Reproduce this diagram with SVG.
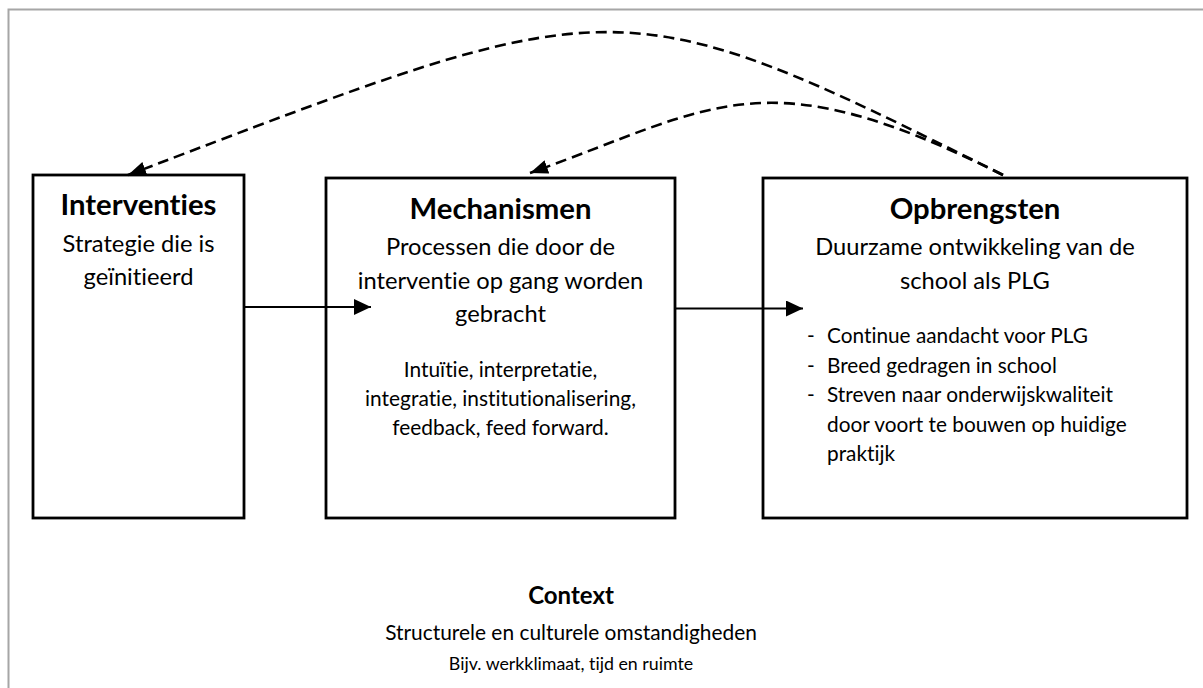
<svg xmlns="http://www.w3.org/2000/svg" width="1203" height="688" viewBox="0 0 1203 688">
  <style>
    text { font-family: Lato, "Liberation Sans", sans-serif; fill: #000; font-variant-ligatures: none; font-feature-settings: "liga" 0, "clig" 0; }
    .h { font-weight: bold; font-size: 29.3px; text-anchor: middle; }
    .b { font-size: 23.7px; text-anchor: middle; }
    .s { font-size: 20.9px; text-anchor: middle; }
    .l { font-size: 20.8px; }
    .box { fill: #fff; stroke: #000; stroke-width: 2.8; }
    .solid { fill: none; stroke: #000; stroke-width: 2.2; marker-end: url(#headSolid); }
    .dash { fill: none; stroke: #000; stroke-width: 2.6; stroke-dasharray: 11 6; marker-end: url(#headDash); }
  </style>
  <defs>
    <marker id="headSolid" viewBox="0 0 17 16" refX="17" refY="8" markerWidth="17" markerHeight="16" markerUnits="userSpaceOnUse" orient="auto">
      <path d="M0,0 L17,8 L0,16 z" fill="#000"/>
    </marker>
    <marker id="headDash" viewBox="0 0 18 14" refX="18" refY="7" markerWidth="18" markerHeight="14" markerUnits="userSpaceOnUse" orient="auto">
      <path d="M0,0 L18,7 L0,14 z" fill="#000"/>
    </marker>
  </defs>

  <rect width="1203" height="688" fill="#fff"/>
  <!-- frame -->
  <path d="M8.5,688 V9.5 H1203" fill="none" stroke="#a6a6a6" stroke-width="2"/>

  <g id="interventies">
    <rect class="box" x="33" y="175" width="211" height="343"/>
    <text class="h" x="138.5" y="215">Interventies</text>
    <text class="b" x="138.5" y="252">Strategie die is</text>
    <text class="b" x="138.5" y="285">geïnitieerd</text>
  </g>

  <g id="mechanismen">
    <rect class="box" x="326" y="178" width="349" height="340"/>
    <text class="h" x="500.5" y="219">Mechanismen</text>
    <text class="b" x="500.5" y="255">Processen die door de</text>
    <text class="b" x="500.5" y="288.5">interventie op gang worden</text>
    <text class="b" x="500.5" y="322">gebracht</text>
    <text class="s" x="500.5" y="377">Intuïtie, interpretatie,</text>
    <text class="s" x="500.5" y="406">integratie, institutionalisering,</text>
    <text class="s" x="500.5" y="435">feedback, feed forward.</text>
  </g>

  <g id="opbrengsten">
    <rect class="box" x="763" y="178" width="424" height="340"/>
    <text class="h" x="975" y="219">Opbrengsten</text>
    <text class="b" x="975" y="255">Duurzame ontwikkeling van de</text>
    <text class="b" x="975" y="288.5">school als PLG</text>
    <text class="l" x="807" y="343">-</text>
    <text class="l" x="827" y="343">Continue aandacht voor PLG</text>
    <text class="l" x="807" y="373">-</text>
    <text class="l" x="827" y="373">Breed gedragen in school</text>
    <text class="l" x="807" y="402">-</text>
    <text class="l" x="827" y="402">Streven naar onderwijskwaliteit</text>
    <text class="l" x="827" y="432">door voort te bouwen op huidige</text>
    <text class="l" x="827" y="461">praktijk</text>
  </g>

  <g id="context">
    <text style="font-weight:bold;font-size:24px;text-anchor:middle" x="571" y="604">Context</text>
    <text style="font-size:20.9px;text-anchor:middle" x="571" y="640">Structurele en culturele omstandigheden</text>
    <text style="font-size:17.8px;text-anchor:middle" x="571" y="670">Bijv. werkklimaat, tijd en ruimte</text>
  </g>

  <g id="connectors">
    <path class="solid" d="M244,307 H371"/>
    <path class="solid" d="M675,308.5 H803"/>
    <path class="dash" d="M1003,175 C613,-20 618,-11 128,175"/>
    <path class="dash" d="M1003,175 C764,55.5 717,105.7 530,173"/>
  </g>
</svg>
